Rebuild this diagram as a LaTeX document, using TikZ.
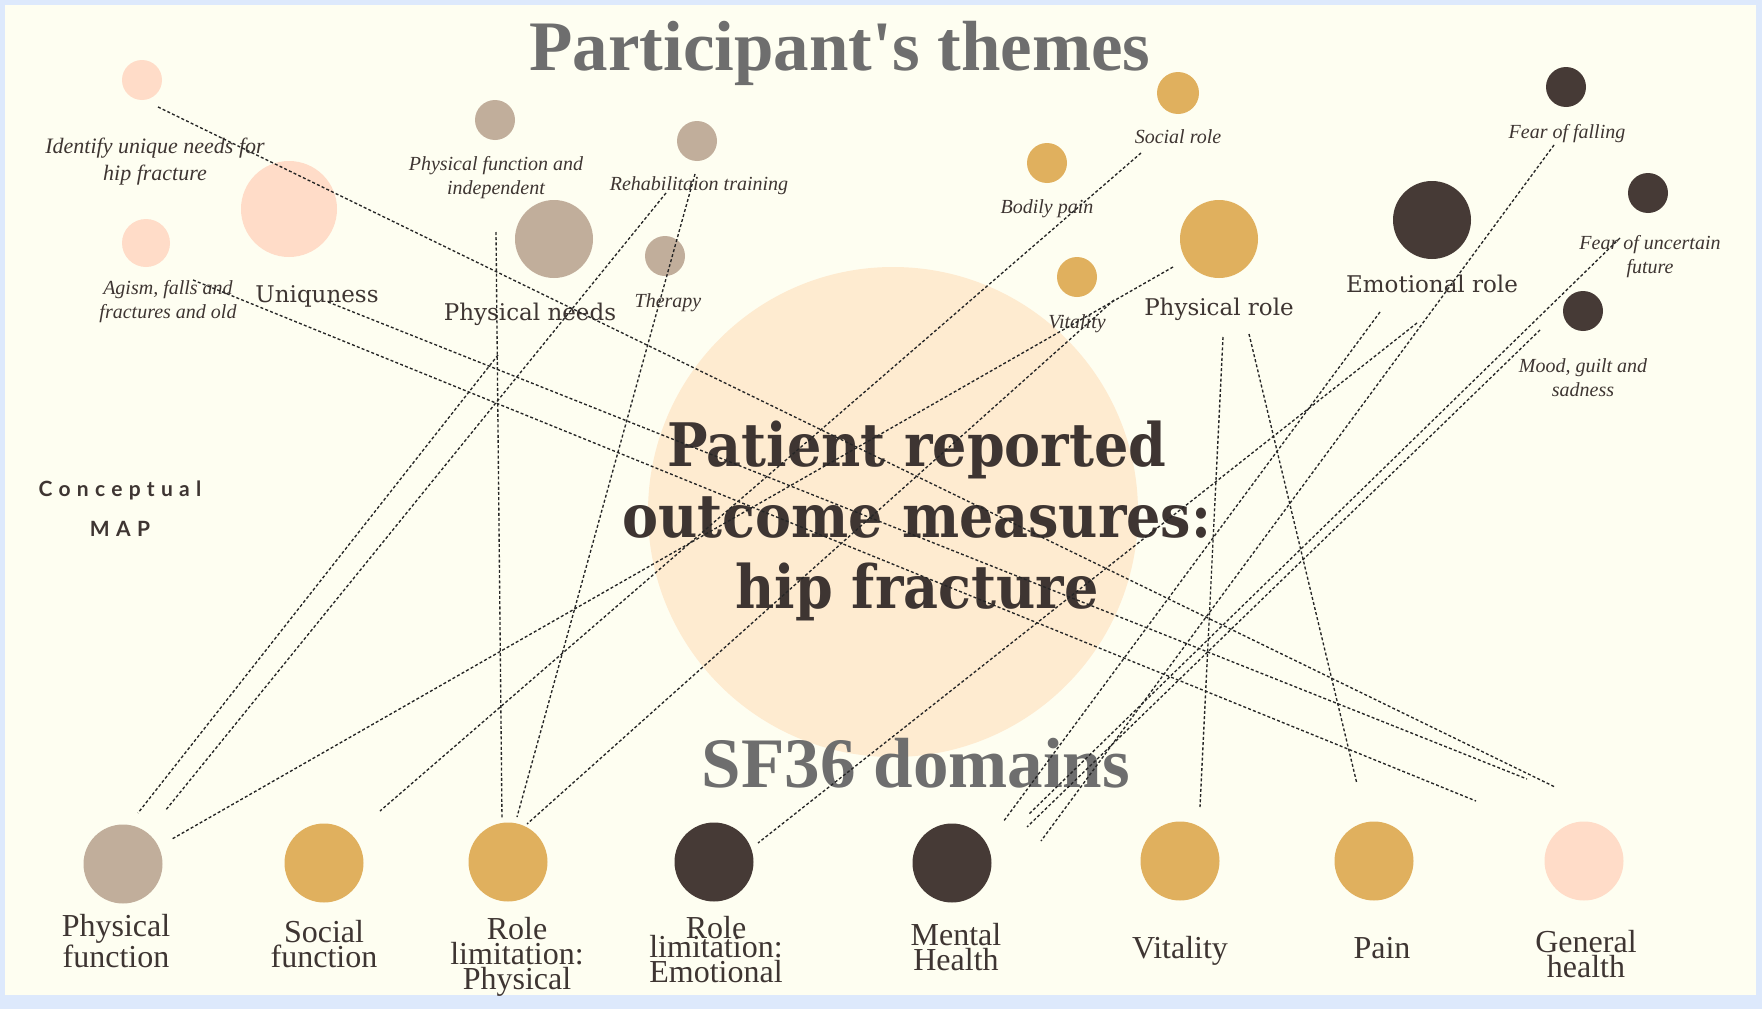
\documentclass[tikz,border=0pt]{standalone}
\usepackage{fontspec}
\usepackage{tikz}
\usetikzlibrary{positioning}

\newfontfamily\titlefont{Liberation Serif}
\newfontfamily\labelfont{Liberation Serif}
\newfontfamily\themefont{DejaVu Serif}
\newfontfamily\heavyfont{DejaVu Serif}[FakeStretch=0.9]
\newfontfamily\mapfont{Lato}[LetterSpace=30]

\definecolor{frame}{HTML}{DDE9FC}
\definecolor{paper}{HTML}{FEFEF1}
\definecolor{peach}{HTML}{FEEBD0}
\definecolor{blush}{HTML}{FFDCC8}
\definecolor{taupe}{HTML}{C1AE9B}
\definecolor{gold}{HTML}{E0B05E}
\definecolor{cocoa}{HTML}{463A36}
\definecolor{ink}{HTML}{3E3532}
\definecolor{titlegray}{HTML}{6E6E6E}
\definecolor{linegray}{HTML}{262626}

\begin{document}
\begin{tikzpicture}[x=1pt, y=-1pt,
  themedot/.style={circle, inner sep=0pt, minimum size=40pt},
  bigdot/.style={circle, inner sep=0pt, minimum size=78pt},
  sfdot/.style={circle, inner sep=0pt, minimum size=79pt},
  note/.style={font=\labelfont\itshape\fontsize{20}{24}\selectfont, text=ink, inner sep=0pt, anchor=base, align=center},
  themelabel/.style={font=\themefont\fontsize{23}{28}\selectfont, text=ink, inner sep=0pt, anchor=base},
  sflabel/.style={font=\labelfont\fontsize{32}{25}\selectfont, text=ink, inner sep=0pt, anchor=base, align=center},
  heading/.style={font=\titlefont\bfseries\fontsize{71}{80}\selectfont, text=titlegray, inner sep=0pt, anchor=base},
  link/.style={draw=linegray, line width=1.35pt, dash pattern=on 3pt off 2.2pt}]

  \useasboundingbox (0,0) rectangle (1762,1009);
  \fill[frame] (0,0) rectangle (1762,1009);
  \fill[paper] (5,5) rectangle (1756,995);

  % centre
  \node (hub) [circle, fill=peach, inner sep=0pt, minimum size=490pt] at (893,512) {};

  % participant's themes
  \node (idneed) [themedot, fill=blush] at (142,80) {};
  \node (agism) [themedot, fill=blush, minimum size=48pt] at (146,243) {};
  \node (uniq) [bigdot, fill=blush, minimum size=96pt] at (289,209) {};
  \node (physind) [themedot, fill=taupe] at (495,120) {};
  \node (physneeds) [bigdot, fill=taupe] at (554,239) {};
  \node (rehab) [themedot, fill=taupe] at (697,141) {};
  \node (therapy) [themedot, fill=taupe] at (665,256) {};
  \node (bodily) [themedot, fill=gold] at (1047,163) {};
  \node (socrole) [themedot, fill=gold, minimum size=42pt] at (1178,93) {};
  \node (vital) [themedot, fill=gold] at (1077,277) {};
  \node (physrole) [bigdot, fill=gold] at (1219,239) {};
  \node (emorole) [bigdot, fill=cocoa] at (1432,220) {};
  \node (falling) [themedot, fill=cocoa] at (1566,87) {};
  \node (uncertain) [themedot, fill=cocoa] at (1648,193) {};
  \node (mood) [themedot, fill=cocoa] at (1583,311) {};

  % SF36 domains
  \node (pf) [sfdot, fill=taupe] at (123,864) {};
  \node (sf) [sfdot, fill=gold] at (324,863) {};
  \node (rlp) [sfdot, fill=gold] at (508,862) {};
  \node (rle) [sfdot, fill=cocoa] at (714,862) {};
  \node (mh) [sfdot, fill=cocoa] at (952,863) {};
  \node (vt) [sfdot, fill=gold] at (1180,861) {};
  \node (bp) [sfdot, fill=gold] at (1374,861) {};
  \node (gh) [sfdot, fill=blush] at (1584,861) {};

  % headings (multi-line nodes sit on their last baseline)
  \node (themes) [heading] at (840,70) {Participant's themes};
  \node (domains) [heading] at (916,787) {SF36 domains};
  \node (prom) [font=\heavyfont\bfseries\fontsize{60}{71}\selectfont, text=ink, inner sep=0pt, anchor=base, align=center] at (917,608) {Patient reported\\outcome measures:\\hip fracture};
  \node (concept) [font=\mapfont\bfseries\fontsize{21}{40}\selectfont, text=ink, inner sep=0pt, anchor=base, align=center] at (120,536) {Conceptual\\MAP};

  % theme labels
  \node (uniqtxt) [themelabel] at (317,302) {Uniquness};
  \node (needstxt) [themelabel] at (530,320) {Physical needs};
  \node (physroletxt) [themelabel] at (1219,315) {Physical role};
  \node (emoroletxt) [themelabel] at (1432,292) {Emotional role};

  \node (idneedtxt) [note, font=\labelfont\itshape\fontsize{22}{27}\selectfont] at (155,180) {Identify unique needs for\\hip fracture};
  \node (agismtxt) [note] at (168,318) {Agism, falls and\\fractures and old};
  \node (physindtxt) [note] at (496,194) {Physical function and\\independent};
  \node (rehabtxt) [note] at (699,190) {Rehabilitaion training};
  \node (therapytxt) [note] at (668,307) {Therapy};
  \node (bodilytxt) [note] at (1047,213) {Bodily pain};
  \node (socroletxt) [note] at (1178,143) {Social role};
  \node (vitaltxt) [note] at (1077,328) {Vitality};
  \node (fallingtxt) [note] at (1567,138) {Fear of falling};
  \node (uncertaintxt) [note] at (1650,273) {Fear of uncertain\\future};
  \node (moodtxt) [note] at (1583,396) {Mood, guilt and\\sadness};

  % domain labels
  \node (pftxt) [sflabel] at (116,967) {Physical\\function};
  \node (sftxt) [sflabel] at (324,967) {Social\\function};
  \node (rlptxt) [sflabel] at (517,989) {Role\\limitation:\\Physical};
  \node (rletxt) [sflabel] at (716,982) {Role\\[-6pt]limitation:\\Emotional};
  \node (mhtxt) [sflabel] at (956,970) {Mental\\Health};
  \node (vttxt) [sflabel] at (1180,958) {Vitality};
  \node (bptxt) [sflabel] at (1382,958) {Pain};
  \node (ghtxt) [sflabel] at (1586,977) {General\\health};

  % free ends of the links
  \coordinate (a1) at (158,107);   \coordinate (b1) at (1555,787);
  \coordinate (a2) at (193,280);   \coordinate (b2) at (1476,801);
  \coordinate (a3) at (328,302);   \coordinate (b3) at (1527,779);
  \coordinate (a4) at (498,355);   \coordinate (b4) at (138,813);
  \coordinate (a5) at (666,193);   \coordinate (b5) at (165,811);
  \coordinate (a6) at (695,174);   \coordinate (b6) at (517,817);
  \coordinate (a7) at (1173,267);  \coordinate (b7) at (172,839);
  \coordinate (a8) at (1141,153);  \coordinate (b8) at (380,811);
  \coordinate (a9) at (1223,337);  \coordinate (b9) at (1200,807);
  \coordinate (a10) at (1249,334); \coordinate (b10) at (1357,784);
  \coordinate (a11) at (1380,312); \coordinate (b11) at (1003,822);
  \coordinate (a12) at (1417,323); \coordinate (b12) at (758,843);
  \coordinate (a13) at (1554,145); \coordinate (b13) at (1041,841);
  \coordinate (a14) at (1620,238); \coordinate (b14) at (1029,814);
  \coordinate (a15) at (1540,330); \coordinate (b15) at (1027,827);
  \coordinate (a16) at (1114,300); \coordinate (b16) at (527,824);
  \coordinate (a17) at (496,232);  \coordinate (b17) at (502,819);

  \path [link]
  (a1) edge (b1)
  (a2) edge (b2)
  (a3) edge (b3)
  (a4) edge (b4)
  (a5) edge (b5)
  (a6) edge (b6)
  (a7) edge (b7)
  (a8) edge (b8)
  (a9) edge (b9)
  (a10) edge (b10)
  (a11) edge (b11)
  (a12) edge (b12)
  (a13) edge (b13)
  (a14) edge (b14)
  (a15) edge (b15)
  (a16) edge (b16)
  (a17) edge (b17);
\end{tikzpicture}
\end{document}
